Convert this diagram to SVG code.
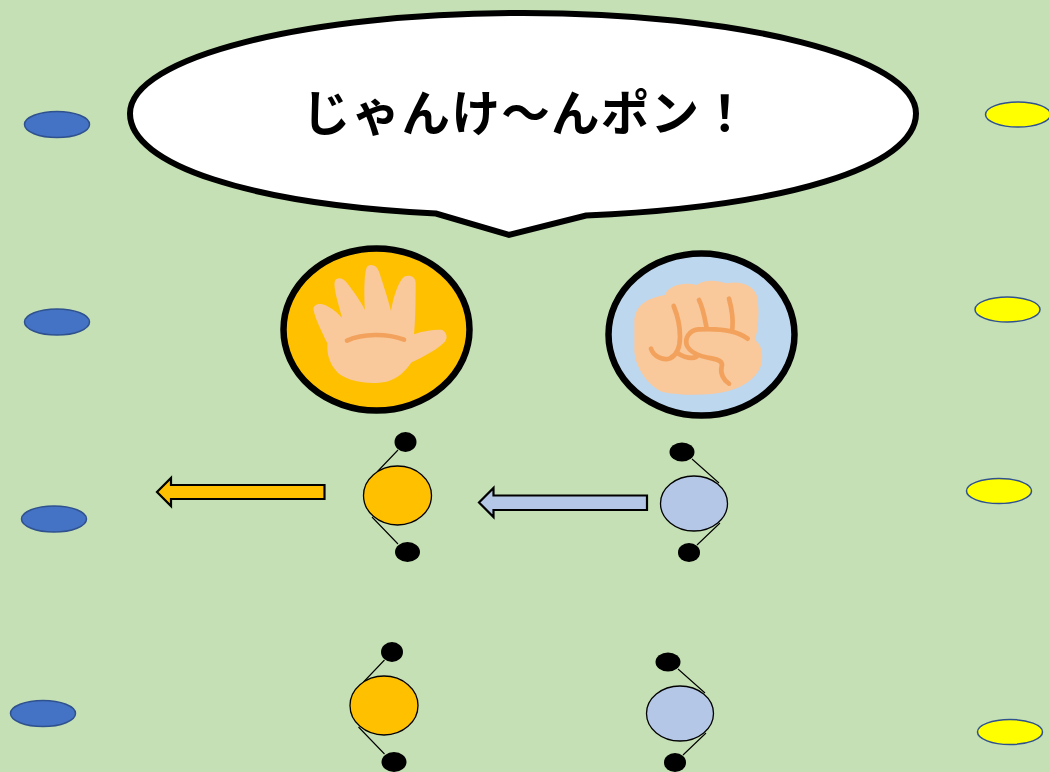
<svg xmlns="http://www.w3.org/2000/svg" width="1049" height="772" viewBox="0 0 1049 772">
<style>
.blue{fill:#4472c4;stroke:#2f528f;stroke-width:1.5}
.yellow{fill:#ffff00;stroke:#2f528f;stroke-width:1.5}
.dot{fill:#000}
.o{fill:#ffc000;stroke:#000;stroke-width:1.3}
.b{fill:#b4c7e7;stroke:#000;stroke-width:1.3}
.arm{stroke:#000;stroke-width:1.1;fill:none}
.skin{fill:#f9c89b}
.crease{fill:none;stroke:#f2a25c;stroke-linecap:round;stroke-linejoin:round}
.arrow{stroke:#000;stroke-width:2.2}
</style>
<rect width="1049" height="772" fill="#c5e0b4"/>
<g id="blue-markers">
<ellipse class="blue" cx="57" cy="124.500" rx="32.500" ry="13"/>
<ellipse class="blue" cx="57" cy="322" rx="32.500" ry="13"/>
<ellipse class="blue" cx="54" cy="519" rx="32.500" ry="13"/>
<ellipse class="blue" cx="43" cy="713.500" rx="32.500" ry="13"/>
</g>
<g id="yellow-markers">
<ellipse class="yellow" cx="1018" cy="114.500" rx="32.500" ry="12.500"/>
<ellipse class="yellow" cx="1007.500" cy="309.500" rx="32.500" ry="12.500"/>
<ellipse class="yellow" cx="999" cy="491" rx="32.500" ry="12.500"/>
<ellipse class="yellow" cx="1010" cy="732" rx="32.500" ry="12.500"/>
</g>
<g id="speech-bubble">
<path d="M436 213.500C250 204 130 165 130 113.500C130 57 306 13 523 13C740 13 916 57 916 113.500C916 167 785 207 586 215.500L509 235Z" fill="#fff" stroke="#000" stroke-width="6"/>
<text x="302" y="131" font-family="'Noto Sans CJK JP','Liberation Sans',sans-serif" font-size="48.500" font-weight="700" letter-spacing="1.3" fill="#000">じゃんけ〜んポン！</text>
</g>
<g id="paper-hand">
<ellipse cx="376.500" cy="329.500" rx="93" ry="81" fill="#ffc000" stroke="#000" stroke-width="6.500"/>
<g transform="translate(270 235) scale(.33333)">
<path class="skin" d="M130 222C132 207 150 203 170 212C195 225 208 240 216 248C205 205 190 160 194 140C200 125 218 127 232 145C255 175 275 205 285 225C282 170 282 105 293 93C310 85 325 95 332 125C345 165 355 195 363 228C370 185 385 140 402 125C420 118 437 125 437 145C437 200 436 260 432 298C460 288 495 283 517 285C530 292 534 308 525 320C500 345 460 365 425 382C405 410 385 430 350 440C300 450 240 442 205 415C180 390 170 360 172 325C155 290 135 250 130 222Z"/>
<path class="crease" stroke-width="14" d="M231 317C280 295 350 295 402 314"/>
</g>
</g>
<g id="rock-hand">
<ellipse cx="701.500" cy="334.500" rx="93" ry="81" fill="#bdd7ee" stroke="#000" stroke-width="6.500"/>
<g transform="translate(595 240) scale(.33333)">
<path class="skin" d="M118 240C122 200 150 175 210 165C220 135 270 125 305 135C330 115 370 122 395 130C430 122 470 130 485 165C495 205 490 270 480 300C500 315 505 340 500 370C490 410 450 440 400 453C340 468 260 468 200 455C150 430 115 370 118 320Z"/>
<path class="crease" stroke-width="14" d="M168 326C175 350 205 362 225 355C245 345 255 320 255 290C255 250 245 220 236 198M245 338C265 350 290 358 305 350M312 180C325 205 330 240 335 265M402 176C410 205 415 240 412 268M458 296C425 270 365 265 310 268C280 272 270 295 275 315C285 340 320 350 350 355C370 358 385 365 380 380C375 400 385 420 402 431"/>
</g>
</g>
<g id="orange-player-top">
<ellipse class="dot" cx="405.500" cy="442" rx="11" ry="10"/>
<ellipse class="dot" cx="407.500" cy="552" rx="12.500" ry="10"/>
<path class="arm" d="M398 450L377 472M372 517L398 544"/>
<ellipse class="o" cx="397.500" cy="495.500" rx="34" ry="29.500"/>
</g>
<g id="blue-player-top">
<ellipse class="dot" cx="682" cy="452" rx="12.500" ry="9.500"/>
<ellipse class="dot" cx="689" cy="552.500" rx="11" ry="9.500"/>
<path class="arm" d="M692 459L719 483M697 545L720 523"/>
<ellipse class="b" cx="694" cy="503.500" rx="33.500" ry="27.500"/>
</g>
<g id="orange-player-bottom">
<ellipse class="dot" cx="392" cy="652" rx="11" ry="10"/>
<ellipse class="dot" cx="394" cy="762" rx="12.500" ry="10"/>
<path class="arm" d="M384.500 660L363.500 682M358.500 727L384.500 754"/>
<ellipse class="o" cx="384" cy="705.500" rx="34" ry="29.500"/>
</g>
<g id="blue-player-bottom">
<ellipse class="dot" cx="668" cy="662" rx="12.500" ry="9.500"/>
<ellipse class="dot" cx="675" cy="762.500" rx="11" ry="9.500"/>
<path class="arm" d="M678 669L705 693M683 755L706 733"/>
<ellipse class="b" cx="680" cy="713.500" rx="33.500" ry="27.500"/>
</g>
<g id="connectors">
<path class="arrow" fill="#ffc000" d="M324.500 485V499H171V506L157 492L171 478V485Z"/>
<path class="arrow" fill="#b4c7e7" d="M647 495.500V510H493.500V517L479 502.500L493.500 488V495.500Z"/>
</g>
</svg>
